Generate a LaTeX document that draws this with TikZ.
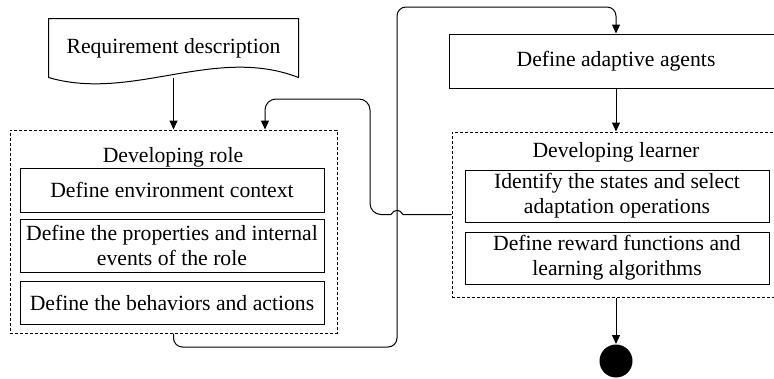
\documentclass[tikz,border=0pt]{standalone}
\usepackage{fontspec}
\setmainfont{Liberation Serif}
\usetikzlibrary{arrows.meta}
\begin{document}
\begin{tikzpicture}[x=1pt,y=-1pt,line width=1pt,
        font=\fontsize{21.7}{25}\selectfont,
        flow/.style={-{Triangle[length=9pt,width=8pt]}},
        stage/.style={draw,dash pattern=on 3pt off 2pt,inner sep=0pt},
        task/.style={draw,align=center,minimum width=304pt,inner sep=0pt},
        title/.style={inner sep=0pt}]
        \clip (0,0) rectangle (774,378);
        % left side
        \node[minimum width=249pt,minimum height=58pt,inner sep=0pt] (req) at (173.5,48) {Requirement description};
        \draw (req.south west) -- (req.north west) -- (req.north east) -- (req.south east)
            .. controls (215,45) and (132,102) .. (req.south west);
        \node[stage,minimum width=327pt,minimum height=203pt] (role) at (173.5,231.5) {};
        \node[title] (roletitle) at (173,157) {Developing role};
        \node[task,minimum height=44pt] (env) at (172,190) {Define environment context};
        \node[task,minimum height=53pt] (prop) at (172,245.5) {Define the properties and internal\\events of the role};
        \node[task,minimum height=43pt] (beh) at (172,302.5) {Define the behaviors and actions};
        % right side
        \node[draw,minimum width=334pt,minimum height=54pt,inner sep=0pt] (agents) at (616,61) {Define adaptive agents};
        \node[stage,minimum width=328pt,minimum height=165pt] (learner) at (616,214.5) {};
        \node[title] (learnertitle) at (616,152) {Developing learner};
        \node[task,minimum height=52pt] (states) at (617,196) {Identify the states and select\\adaptation operations};
        \node[task,minimum height=52pt] (reward) at (617,258) {Define reward functions and\\learning algorithms};
        \node[circle,fill,minimum size=33pt,inner sep=0pt] (end) at (616,361) {};
        % connectors
        \draw[flow] (req.south) -- (role.north);
        \draw[flow,rounded corners=9pt] (role.south) |- (397,347) -- (397,7) -| (agents.north);
        \draw[flow] (agents.south) -- (learner.north);
        \draw[flow] (learner.south) -- (end.north);
        \draw[flow] (learner.west) -- (403,214.5) .. controls (400,209) and (394,209) .. (391,214.5)
            [rounded corners=11pt] -- (370,214.5) -- (370,99) -| ([xshift=91.5pt]role.north);
    \end{tikzpicture}
\end{document}
